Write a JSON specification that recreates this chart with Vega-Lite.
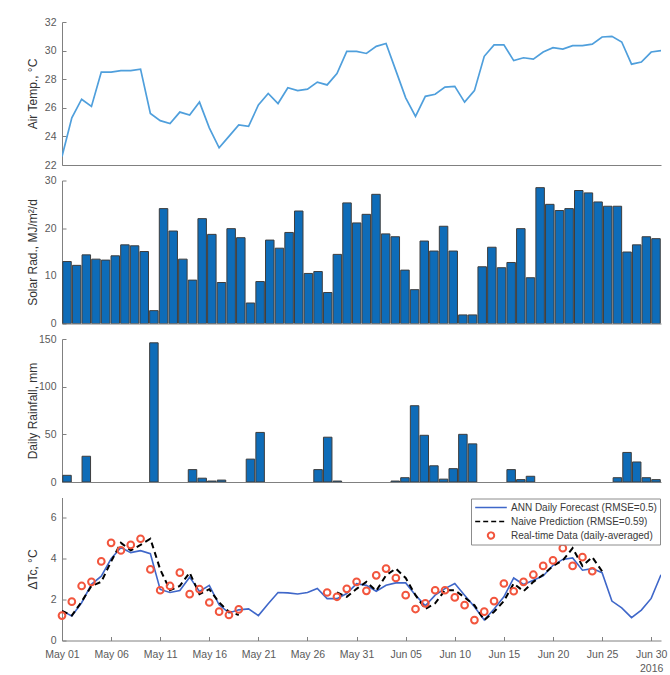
{
  "$schema": "https://vega.github.io/schema/vega-lite/v6.json",
  "padding": {"left": 26, "top": 17, "right": 6, "bottom": 2},
  "background": "white",
  "spacing": 15.5,
  "bounds": "flush",
  "resolve": {"legend": {"color": "independent"}},
  "data": {"values": [
    {"date": "2016-05-01T00:00", "airTemp": 22.6, "solar": 13.0, "rain": 7, "ann": 1.45, "naive": 1.45, "real": 1.22},
    {"date": "2016-05-02T00:00", "airTemp": 25.3, "solar": 12.2, "rain": 0, "ann": 1.2, "naive": 1.22, "real": 1.9},
    {"date": "2016-05-03T00:00", "airTemp": 26.6, "solar": 14.4, "rain": 27, "ann": 1.85, "naive": 1.9, "real": 2.67},
    {"date": "2016-05-04T00:00", "airTemp": 26.1, "solar": 13.5, "rain": 0, "ann": 2.75, "naive": 2.67, "real": 2.87},
    {"date": "2016-05-05T00:00", "airTemp": 28.5, "solar": 13.3, "rain": 0, "ann": 3.15, "naive": 2.87, "real": 3.87},
    {"date": "2016-05-06T00:00", "airTemp": 28.5, "solar": 14.2, "rain": 0, "ann": 4.0, "naive": 3.87, "real": 4.78},
    {"date": "2016-05-07T00:00", "airTemp": 28.6, "solar": 16.5, "rain": 0, "ann": 4.55, "naive": 4.78, "real": 4.41},
    {"date": "2016-05-08T00:00", "airTemp": 28.6, "solar": 16.3, "rain": 0, "ann": 4.3, "naive": 4.41, "real": 4.68},
    {"date": "2016-05-09T00:00", "airTemp": 28.7, "solar": 15.1, "rain": 0, "ann": 4.4, "naive": 4.68, "real": 4.98},
    {"date": "2016-05-10T00:00", "airTemp": 25.6, "solar": 2.7, "rain": 146, "ann": 4.25, "naive": 4.98, "real": 3.48},
    {"date": "2016-05-11T00:00", "airTemp": 25.1, "solar": 24.1, "rain": 0, "ann": 2.5, "naive": 3.48, "real": 2.46},
    {"date": "2016-05-12T00:00", "airTemp": 24.9, "solar": 19.4, "rain": 0, "ann": 2.35, "naive": 2.46, "real": 2.67},
    {"date": "2016-05-13T00:00", "airTemp": 25.7, "solar": 13.5, "rain": 0, "ann": 2.45, "naive": 2.67, "real": 3.32},
    {"date": "2016-05-14T00:00", "airTemp": 25.5, "solar": 9.1, "rain": 13, "ann": 3.1, "naive": 3.32, "real": 2.27},
    {"date": "2016-05-15T00:00", "airTemp": 26.4, "solar": 22.0, "rain": 4, "ann": 2.4, "naive": 2.27, "real": 2.51},
    {"date": "2016-05-16T00:00", "airTemp": 24.6, "solar": 18.7, "rain": 1, "ann": 2.7, "naive": 2.51, "real": 1.86},
    {"date": "2016-05-17T00:00", "airTemp": 23.2, "solar": 8.6, "rain": 2, "ann": 1.75, "naive": 1.86, "real": 1.41},
    {"date": "2016-05-18T00:00", "airTemp": 24.0, "solar": 19.9, "rain": 0, "ann": 1.35, "naive": 1.41, "real": 1.25},
    {"date": "2016-05-19T00:00", "airTemp": 24.8, "solar": 18.0, "rain": 0, "ann": 1.5, "naive": 1.25, "real": 1.52},
    {"date": "2016-05-20T00:00", "airTemp": 24.7, "solar": 4.3, "rain": 24, "ann": 1.55, "naive": null, "real": null},
    {"date": "2016-05-21T00:00", "airTemp": 26.2, "solar": 8.8, "rain": 52, "ann": 1.22, "naive": null, "real": null},
    {"date": "2016-05-22T00:00", "airTemp": 27.0, "solar": 17.5, "rain": 0, "ann": 1.8, "naive": null, "real": null},
    {"date": "2016-05-23T00:00", "airTemp": 26.3, "solar": 15.8, "rain": 0, "ann": 2.35, "naive": null, "real": null},
    {"date": "2016-05-24T00:00", "airTemp": 27.4, "solar": 19.1, "rain": 0, "ann": 2.33, "naive": null, "real": null},
    {"date": "2016-05-25T00:00", "airTemp": 27.2, "solar": 23.6, "rain": 0, "ann": 2.28, "naive": null, "real": null},
    {"date": "2016-05-26T00:00", "airTemp": 27.3, "solar": 10.5, "rain": 0, "ann": 2.35, "naive": null, "real": null},
    {"date": "2016-05-27T00:00", "airTemp": 27.8, "solar": 10.9, "rain": 13, "ann": 2.55, "naive": null, "real": null},
    {"date": "2016-05-28T00:00", "airTemp": 27.6, "solar": 6.5, "rain": 47, "ann": 2.05, "naive": null, "real": 2.35},
    {"date": "2016-05-29T00:00", "airTemp": 28.4, "solar": 14.5, "rain": 1, "ann": 2.05, "naive": 2.35, "real": 2.14},
    {"date": "2016-05-30T00:00", "airTemp": 29.95, "solar": 25.3, "rain": 0, "ann": 2.3, "naive": 2.14, "real": 2.53},
    {"date": "2016-05-31T00:00", "airTemp": 29.95, "solar": 21.1, "rain": 0, "ann": 2.78, "naive": 2.53, "real": 2.87},
    {"date": "2016-06-01T00:00", "airTemp": 29.8, "solar": 22.9, "rain": 0, "ann": 2.7, "naive": 2.87, "real": 2.43},
    {"date": "2016-06-02T00:00", "airTemp": 30.3, "solar": 27.1, "rain": 0, "ann": 2.41, "naive": 2.43, "real": 3.19},
    {"date": "2016-06-03T00:00", "airTemp": 30.5, "solar": 18.8, "rain": 0, "ann": 2.7, "naive": 3.19, "real": 3.52},
    {"date": "2016-06-04T00:00", "airTemp": 28.6, "solar": 18.2, "rain": 1, "ann": 2.82, "naive": 3.52, "real": 3.06},
    {"date": "2016-06-05T00:00", "airTemp": 26.7, "solar": 11.2, "rain": 4.5, "ann": 2.82, "naive": 3.06, "real": 2.22},
    {"date": "2016-06-06T00:00", "airTemp": 25.4, "solar": 7.1, "rain": 80, "ann": 2.22, "naive": 2.22, "real": 1.54},
    {"date": "2016-06-07T00:00", "airTemp": 26.8, "solar": 17.3, "rain": 49, "ann": 1.7, "naive": 1.54, "real": 1.82},
    {"date": "2016-06-08T00:00", "airTemp": 26.95, "solar": 15.2, "rain": 17, "ann": 2.22, "naive": 1.82, "real": 2.46},
    {"date": "2016-06-09T00:00", "airTemp": 27.45, "solar": 20.4, "rain": 3, "ann": 2.54, "naive": 2.46, "real": 2.46},
    {"date": "2016-06-10T00:00", "airTemp": 27.5, "solar": 15.2, "rain": 14, "ann": 2.79, "naive": 2.46, "real": 2.11},
    {"date": "2016-06-11T00:00", "airTemp": 26.4, "solar": 1.8, "rain": 50, "ann": 2.22, "naive": 2.11, "real": 1.73},
    {"date": "2016-06-12T00:00", "airTemp": 27.2, "solar": 1.8, "rain": 40, "ann": 1.65, "naive": 1.73, "real": 1.0},
    {"date": "2016-06-13T00:00", "airTemp": 29.6, "solar": 11.9, "rain": 0, "ann": 1.0, "naive": 1.0, "real": 1.41},
    {"date": "2016-06-14T00:00", "airTemp": 30.4, "solar": 16.0, "rain": 0, "ann": 1.54, "naive": 1.41, "real": 1.93},
    {"date": "2016-06-15T00:00", "airTemp": 30.4, "solar": 11.7, "rain": 0, "ann": 2.14, "naive": 1.93, "real": 2.79},
    {"date": "2016-06-16T00:00", "airTemp": 29.3, "solar": 12.8, "rain": 13, "ann": 3.06, "naive": 2.79, "real": 2.41},
    {"date": "2016-06-17T00:00", "airTemp": 29.5, "solar": 19.9, "rain": 2.5, "ann": 2.74, "naive": 2.41, "real": 2.87},
    {"date": "2016-06-18T00:00", "airTemp": 29.4, "solar": 9.6, "rain": 6, "ann": 2.95, "naive": 2.87, "real": 3.22},
    {"date": "2016-06-19T00:00", "airTemp": 29.9, "solar": 28.5, "rain": 0, "ann": 3.16, "naive": 3.22, "real": 3.65},
    {"date": "2016-06-20T00:00", "airTemp": 30.2, "solar": 25.0, "rain": 0, "ann": 3.68, "naive": 3.65, "real": 3.92},
    {"date": "2016-06-21T00:00", "airTemp": 30.1, "solar": 23.7, "rain": 0, "ann": 3.97, "naive": 3.92, "real": 4.52},
    {"date": "2016-06-22T00:00", "airTemp": 30.35, "solar": 24.1, "rain": 0, "ann": 4.04, "naive": 4.52, "real": 3.65},
    {"date": "2016-06-23T00:00", "airTemp": 30.35, "solar": 27.9, "rain": 0, "ann": 3.44, "naive": 3.65, "real": 4.08},
    {"date": "2016-06-24T00:00", "airTemp": 30.45, "solar": 27.4, "rain": 0, "ann": 3.52, "naive": 4.08, "real": 3.39},
    {"date": "2016-06-25T00:00", "airTemp": 30.95, "solar": 25.5, "rain": 0, "ann": 3.32, "naive": 3.39, "real": null},
    {"date": "2016-06-26T00:00", "airTemp": 31.0, "solar": 24.6, "rain": 0, "ann": 1.93, "naive": null, "real": null},
    {"date": "2016-06-27T00:00", "airTemp": 30.6, "solar": 24.6, "rain": 4.5, "ann": 1.6, "naive": null, "real": null},
    {"date": "2016-06-28T00:00", "airTemp": 29.05, "solar": 15.0, "rain": 31, "ann": 1.12, "naive": null, "real": null},
    {"date": "2016-06-29T00:00", "airTemp": 29.2, "solar": 16.5, "rain": 21, "ann": 1.49, "naive": null, "real": null},
    {"date": "2016-06-30T00:00", "airTemp": 29.9, "solar": 18.2, "rain": 4.5, "ann": 2.06, "naive": null, "real": null},
    {"date": "2016-07-01T00:00", "airTemp": 30.0, "solar": 17.8, "rain": 2.5, "ann": 3.22, "naive": null, "real": null}
  ]},
  "vconcat": [
    {
      "width": 599, "height": 143,
      "mark": {"type": "line", "color": "#4f9fdc", "strokeWidth": 1.7, "clip": true},
      "encoding": {
        "x": {"field": "date", "type": "temporal",
              "scale": {"domain": [{"year": 2016, "month": 5, "date": 1}, {"year": 2016, "month": 7, "date": 1}]},
              "axis": {"labels": false, "ticks": false, "title": null}},
        "y": {"field": "airTemp", "type": "quantitative", "title": "Air Temp., °C",
              "scale": {"domain": [22, 32], "nice": false, "zero": false},
              "axis": {"values": [22, 24, 26, 28, 30, 32]}}
      }
    },
    {
      "width": 599, "height": 143,
      "mark": {"type": "bar", "size": 8.5, "color": "#0e6cb8", "stroke": "#3d3d3d", "strokeWidth": 1, "clip": true},
      "encoding": {
        "x": {"field": "date", "type": "temporal",
              "scale": {"domain": [{"year": 2016, "month": 5, "date": 1}, {"year": 2016, "month": 7, "date": 1}]},
              "axis": {"labels": false, "ticks": false, "title": null}},
        "y": {"field": "solar", "type": "quantitative", "title": "Solar Rad., MJ/m²/d",
              "scale": {"domain": [0, 30], "nice": false},
              "axis": {"values": [0, 10, 20, 30]}}
      }
    },
    {
      "width": 599, "height": 143,
      "transform": [{"filter": "datum.rain > 0"}],
      "mark": {"type": "bar", "size": 8.5, "color": "#0e6cb8", "stroke": "#3d3d3d", "strokeWidth": 1, "clip": true},
      "encoding": {
        "x": {"field": "date", "type": "temporal",
              "scale": {"domain": [{"year": 2016, "month": 5, "date": 1}, {"year": 2016, "month": 7, "date": 1}]},
              "axis": {"labels": false, "ticks": false, "title": null}},
        "y": {"field": "rain", "type": "quantitative", "title": "Daily Rainfall, mm",
              "scale": {"domain": [0, 150], "nice": false},
              "axis": {"values": [0, 50, 100, 150]}}
      }
    },
    {
      "width": 599, "height": 143,
      "encoding": {
        "x": {"field": "date", "type": "temporal",
              "scale": {"domain": [{"year": 2016, "month": 5, "date": 1}, {"year": 2016, "month": 7, "date": 1}]},
              "axis": {"title": null, "format": "%b %d", "tickSize": -4, "labelPadding": 13, "labelFlush": false, "labelOverlap": false,
                       "labelLineHeight": 14,
                       "labelExpr": "datum.label === 'Jun 30' ? ['Jun 30', '2016'] : datum.label",
                       "values": [
                         {"year": 2016, "month": 5, "date": 1}, {"year": 2016, "month": 5, "date": 6},
                         {"year": 2016, "month": 5, "date": 11}, {"year": 2016, "month": 5, "date": 16},
                         {"year": 2016, "month": 5, "date": 21}, {"year": 2016, "month": 5, "date": 26},
                         {"year": 2016, "month": 5, "date": 31}, {"year": 2016, "month": 6, "date": 5},
                         {"year": 2016, "month": 6, "date": 10}, {"year": 2016, "month": 6, "date": 15},
                         {"year": 2016, "month": 6, "date": 20}, {"year": 2016, "month": 6, "date": 25},
                         {"year": 2016, "month": 6, "date": 30}]}}
      },
      "layer": [
        {
          "mark": {"type": "line", "strokeWidth": 1.6, "clip": true},
          "encoding": {
            "y": {"field": "ann", "type": "quantitative", "title": "ΔTc, °C",
                  "scale": {"domain": [0, 7], "nice": false},
                  "axis": {"values": [0, 2, 4, 6]}},
            "color": {"datum": "ANN Daily Forecast (RMSE=0.5)", "type": "nominal",
                      "scale": {"domain": ["ANN Daily Forecast (RMSE=0.5)", "Naive Prediction (RMSE=0.59)", "Real-time Data (daily-averaged)"],
                                "range": ["#3f67c9", "#000000", "#f2553d"]},
                      "legend": {
                        "title": null, "orient": "top-right", "offset": 1,
                        "strokeColor": "#8c8c8c", "fillColor": "#ffffff", "padding": 3,
                        "labelFontSize": 10, "labelColor": "#3a3a3a", "labelOffset": 3,
                        "rowPadding": 2, "clipHeight": 12, "symbolOffset": 0,
                        "encode": {"symbols": {"update": {
                          "shape": {"signal": "datum.value === 'Real-time Data (daily-averaged)' ? 'circle' : 'stroke'"},
                          "size": {"signal": "(datum.value === 'Real-time Data (daily-averaged)' ? 40 : 1000)"},
                          "strokeDash": {"signal": "datum.value === 'Naive Prediction (RMSE=0.59)' ? [5, 3] : [1, 0]"},
                          "strokeWidth": {"signal": "(datum.value === 'Real-time Data (daily-averaged)' ? 2 : 1.5)"},
                          "fill": {"value": "transparent"},
                          "opacity": {"value": 1},
                          "stroke": {"signal": "datum.value === 'Real-time Data (daily-averaged)' ? '#f2553d' : (datum.value === 'Naive Prediction (RMSE=0.59)' ? '#000000' : '#3f67c9')"}
                        }}}
                      }}
          }
        },
        {
          "mark": {"type": "line", "strokeWidth": 2, "strokeDash": [6, 4], "invalid": "break-paths-filter-domains", "clip": true},
          "encoding": {
            "y": {"field": "naive", "type": "quantitative", "title": "ΔTc, °C"},
            "color": {"datum": "Naive Prediction (RMSE=0.59)", "type": "nominal"}
          }
        },
        {
          "mark": {"type": "point", "filled": false, "size": 45, "strokeWidth": 2, "opacity": 1},
          "encoding": {
            "y": {"field": "real", "type": "quantitative", "title": "ΔTc, °C"},
            "color": {"datum": "Real-time Data (daily-averaged)", "type": "nominal"}
          }
        }
      ]
    }
  ],
  "config": {
    "font": "Liberation Sans",
    "view": {"stroke": null},
    "axis": {"domainColor": "#808080", "tickColor": "#808080", "labelColor": "#5a5a5a", "titleColor": "#333333",
             "labelFontSize": 10.5, "titleFontSize": 12, "titleFontWeight": "normal", "grid": false,
             "labelFont": "Liberation Sans", "titleFont": "Liberation Sans"},
    "axisY": {"tickSize": -4, "labelPadding": 10, "minExtent": 22, "maxExtent": 22, "titlePadding": 1, "labelFlush": false, "labelOverlap": false}
  }
}
